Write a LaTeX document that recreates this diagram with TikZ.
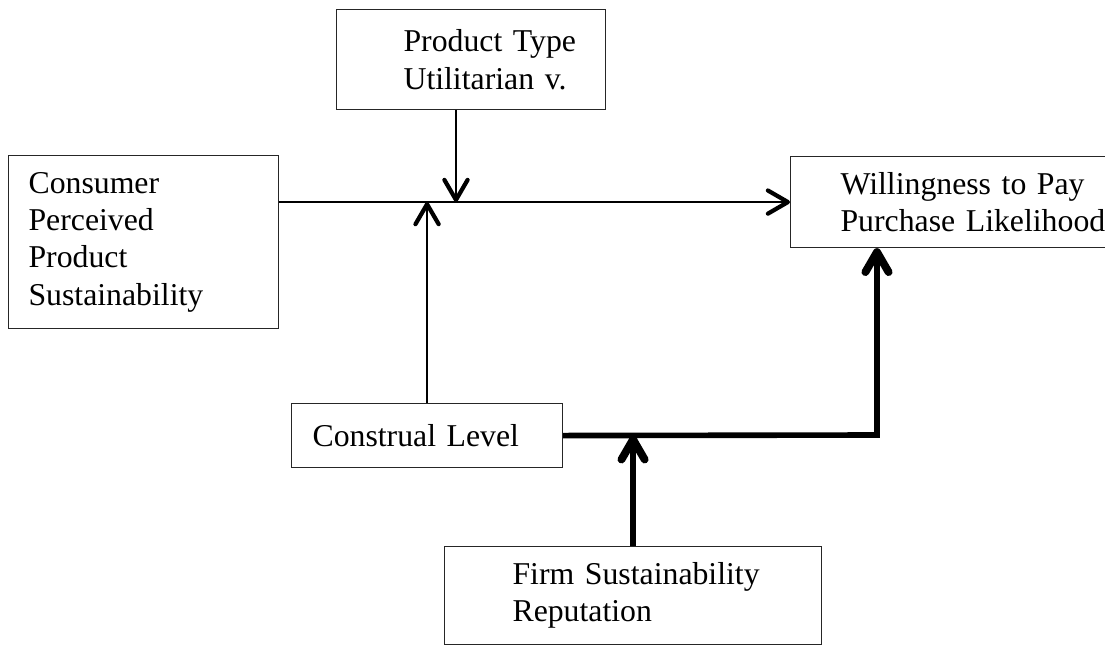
\documentclass[tikz,border=0pt]{standalone}
\usepackage{fontspec}
\setmainfont{Liberation Serif}
\usepackage{tikz}
\usetikzlibrary{arrows.meta}

\begin{document}
\begin{tikzpicture}[
    >={Straight Barb[length=2.5mm, width=2.9mm, line width=0.8pt 1, round]},
    box/.style={draw=black!85, anchor=north west, inner xsep=0pt, inner ysep=0pt, align=left,
        font=\fontsize{11.3}{13.3}\selectfont},
    indent/.style={execute at begin node={\leftskip=#1\relax}},
    link/.style={line width=0.7pt},
    heavy/.style={line width=2pt}]
    \useasboundingbox (0,0) rectangle (13.8125,-8.075);

    \node [box, text width=3.375cm, minimum height=2.1625cm, indent=0.25cm] (consumer) at (0.1,-1.9375) {Consumer\\Perceived\\Product\\Sustainability};
    \node [box, text width=3.3625cm, minimum height=1.25cm, indent=0.8375cm] (product) at (4.2,-0.1125) {Product Type\\Utilitarian v.};
    \node [box, text width=4.625cm, minimum height=1.1375cm, indent=0.625cm] (willing) at (9.875,-1.95) {Willingness to Pay\\Purchase Likelihood};
    \node [box, text width=3.3875cm, minimum height=0.8cm, indent=0.2625cm] (construal) at (3.6375,-5.0375) {Construal Level};
    \node [box, text width=4.7125cm, minimum height=1.225cm, indent=0.85cm] (firm) at (5.55,-6.825) {Firm Sustainability\\Reputation};

    \coordinate (ptype) at (5.7,-2.525);
    \coordinate (turn) at (10.9625,-5.4375);

    \draw[link, ->] (consumer.east |- willing.west) -- (willing.west);
    \draw[link, ->] (product.south -| ptype) -- (ptype);
    \draw[link, ->] (construal.north) -- (construal.north |- willing.west);

    % moderated path
    \draw[heavy, ->] (construal.east) -- (turn) -- (turn |- willing.south);
    \draw[heavy, ->] (firm.north) -- (firm.north |- construal.east);

\end{tikzpicture}
\end{document}
